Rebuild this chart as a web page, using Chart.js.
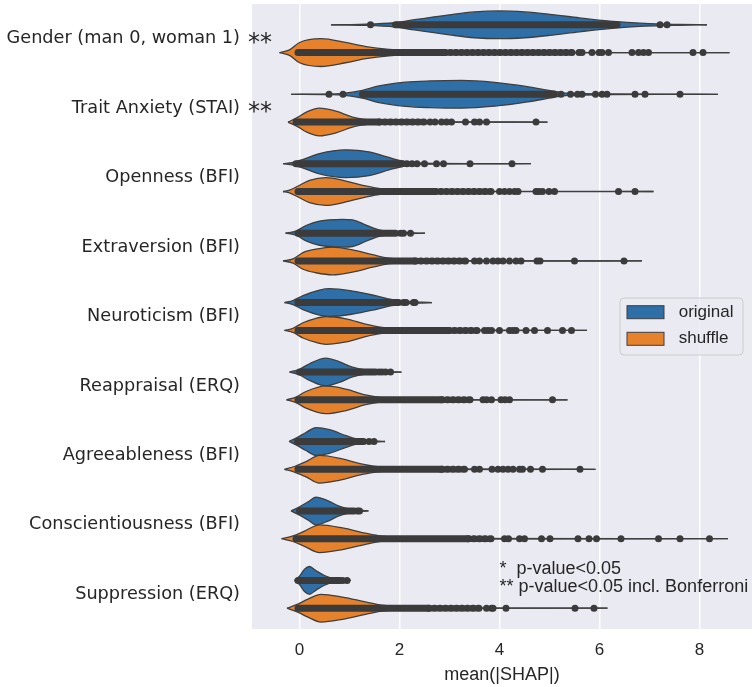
<!DOCTYPE html>
<html>
<head>
<meta charset="utf-8">
<script src="https://cdn.jsdelivr.net/npm/chart.js@4.4.1/dist/chart.umd.min.js"></script>
<style>
  body { margin: 0; background: #ffffff; }
</style>
</head>
<body>
<canvas id="myChart" width="756" height="687"></canvas>
<script>
// categories, top to bottom
var categories = ['Gender (man 0, woman 1)', 'Trait Anxiety (STAI)', 'Openness (BFI)', 'Extraversion (BFI)',
  'Neuroticism (BFI)', 'Reappraisal (ERQ)', 'Agreeableness (BFI)', 'Conscientiousness (BFI)', 'Suppression (ERQ)'];
var significance = ['**', '**', '', '', '', '', '', '', ''];
var seriesNames = ['original', 'shuffle'];
var xTicks = [0, 2, 4, 6, 8];

// violin outlines: sample positions and relative width (1 = widest)
var origX = [
  [0.63, 1.2, 1.9, 2.3, 3.0, 3.5, 4.0, 4.5, 5.0, 5.6, 6.2, 6.9, 7.6, 8.15],
  [-0.17, 0.6, 0.87, 1.26, 1.59, 2.12, 2.6, 3.24, 3.9, 4.56, 5.09, 5.36, 6.2, 7.2, 8.37],
  [-0.33, -0.13, 0.06, 0.4, 0.92, 1.39, 1.79, 2.05, 2.31, 2.71, 3.5, 4.63],
  [-0.28, -0.07, 0.13, 0.4, 0.86, 1.06, 1.32, 1.59, 1.85, 2.18, 2.51],
  [-0.3, -0.13, 0.07, 0.4, 0.6, 1.06, 1.52, 1.85, 2.18, 2.45, 2.65],
  [-0.2, 0.0, 0.2, 0.53, 0.79, 1.06, 1.32, 1.59, 1.85, 2.04],
  [-0.21, -0.04, 0.13, 0.33, 0.6, 0.93, 1.12, 1.39, 1.59, 1.71],
  [-0.17, 0.0, 0.17, 0.33, 0.56, 0.79, 0.99, 1.19, 1.38],
  [-0.1, 0.0, 0.1, 0.2, 0.33, 0.5, 0.66, 0.86, 1.03]
];
var origW = [
  [0, 0.03, 0.15, 0.37, 0.72, 0.93, 1.0, 0.93, 0.76, 0.5, 0.27, 0.1, 0.03, 0],
  [0, 0.02, 0.06, 0.28, 0.6, 0.87, 0.96, 1.0, 0.86, 0.55, 0.22, 0.08, 0.03, 0.01, 0],
  [0, 0.1, 0.3, 0.73, 1.0, 0.86, 0.45, 0.2, 0.07, 0.02, 0.01, 0],
  [0, 0.15, 0.55, 0.87, 1.0, 0.96, 0.6, 0.23, 0.08, 0.03, 0],
  [0, 0.15, 0.5, 0.9, 1.0, 0.83, 0.5, 0.22, 0.08, 0.03, 0],
  [0, 0.2, 0.6, 1.0, 0.75, 0.35, 0.15, 0.06, 0.02, 0],
  [0, 0.3, 0.65, 1.0, 0.85, 0.42, 0.2, 0.07, 0.02, 0],
  [0, 0.3, 0.65, 1.0, 0.75, 0.35, 0.15, 0.06, 0],
  [0, 0.3, 0.8, 1.0, 0.7, 0.35, 0.15, 0.05, 0]
];
var shufX = [
  [-0.4, -0.2, 0.0, 0.43, 0.92, 1.33, 1.79, 2.58, 3.57, 5.0, 6.5, 8.6],
  [-0.23, -0.03, 0.13, 0.4, 0.73, 1.06, 1.39, 1.79, 2.58, 4.96],
  [-0.33, -0.2, 0.0, 0.2, 0.53, 0.93, 1.32, 1.65, 2.18, 3.04, 4.5, 7.08],
  [-0.33, -0.13, 0.07, 0.33, 0.66, 1.06, 1.46, 1.79, 2.31, 3.37, 6.85],
  [-0.3, -0.13, 0.07, 0.33, 0.53, 0.93, 1.32, 1.65, 2.18, 3.04, 5.75],
  [-0.26, -0.07, 0.13, 0.53, 0.93, 1.32, 1.65, 2.18, 2.84, 5.36],
  [-0.3, -0.1, 0.13, 0.4, 0.79, 1.19, 1.52, 2.05, 2.84, 5.92],
  [-0.36, -0.13, 0.1, 0.4, 0.86, 1.32, 1.65, 2.18, 3.04, 8.57],
  [-0.25, -0.06, 0.17, 0.43, 0.86, 1.32, 1.65, 2.18, 2.97, 6.16]
];
var shufW = [
  [0, 0.2, 0.73, 1.0, 0.73, 0.43, 0.23, 0.08, 0.03, 0.015, 0.005, 0],
  [0, 0.35, 0.7, 1.0, 0.78, 0.36, 0.15, 0.05, 0.02, 0],
  [0, 0.1, 0.45, 0.8, 1.0, 0.75, 0.4, 0.18, 0.07, 0.02, 0.01, 0],
  [0, 0.15, 0.6, 0.85, 1.0, 0.8, 0.45, 0.2, 0.07, 0.02, 0],
  [0, 0.15, 0.55, 0.87, 1.0, 0.83, 0.45, 0.22, 0.08, 0.03, 0],
  [0, 0.2, 0.6, 1.0, 0.77, 0.35, 0.15, 0.05, 0.02, 0],
  [0, 0.2, 0.55, 1.0, 0.8, 0.42, 0.2, 0.07, 0.02, 0],
  [0, 0.2, 0.55, 1.0, 0.78, 0.4, 0.18, 0.06, 0.02, 0],
  [0, 0.25, 0.65, 1.0, 0.8, 0.45, 0.22, 0.07, 0.02, 0]
];

// inner points: dense run [from, to], end of the looser run, single points
var origDense = [[1.92, 6.28], [1.26, 5.09], [-0.07, 2.05], [-0.03, 1.92], [-0.03, 1.98],
  [0.0, 1.52], [-0.04, 1.28], [0.0, 1.09], [-0.03, 0.8]];
var origLoose = [6.28, 5.09, 2.05, 1.92, 1.98, 1.52, 1.28, 1.09, 0.8];
var origDots = [
  [1.42, 6.35, 7.21, 7.35],
  [0.59, 0.87, 5.23, 5.42, 5.56, 5.65, 5.92, 6.05, 6.15, 6.71, 6.91, 7.61],
  [2.15, 2.25, 2.35, 2.5, 2.74, 2.88, 3.41, 4.25],
  [2.02, 2.08, 2.22],
  [2.08, 2.13, 2.28, 2.31],
  [1.59, 1.65, 1.72, 1.82],
  [1.39, 1.49],
  [1.16, 1.2],
  [0.86, 0.95]
];
var shufDense = [[-0.03, 2.9], [-0.07, 1.59], [-0.03, 2.71], [-0.03, 2.31], [-0.03, 2.98],
  [-0.03, 2.84], [-0.03, 2.84], [-0.07, 3.37], [-0.03, 2.58]];
var shufLoose = [5.5, 2.51, 3.9, 3.37, 3.6, 3.5, 3.37, 3.9, 3.64];
var shufDots = [
  [5.59, 5.65, 5.85, 5.99, 6.05, 6.18, 6.65, 6.78, 6.88, 6.98, 7.87, 8.07],
  [2.61, 2.71, 2.84, 2.94, 3.04, 3.32, 3.5, 3.6, 3.74, 4.73],
  [4.0, 4.1, 4.2, 4.3, 4.37, 4.73, 4.79, 4.86, 4.99, 5.1, 6.38, 6.71],
  [3.5, 3.6, 3.74, 3.87, 3.97, 4.07, 4.2, 4.33, 4.43, 4.75, 4.81, 5.5, 6.49],
  [3.7, 3.77, 3.84, 4.0, 4.2, 4.27, 4.33, 4.53, 4.7, 4.96, 5.26, 5.44],
  [3.67, 3.74, 3.84, 4.03, 4.11, 4.2, 5.06],
  [3.5, 3.6, 3.85, 3.97, 4.07, 4.17, 4.27, 4.4, 4.46, 4.62, 4.86, 5.61],
  [4.1, 4.18, 4.4, 4.5, 4.84, 5.01, 5.57, 5.79, 5.94, 6.43, 7.18, 7.61, 8.2],
  [3.74, 3.84, 3.87, 4.13, 5.51, 5.89]
];

var colors = ['#2d6fa6', '#e5822b'];
var EDGE = '#3f3f3f';
var DOT = '#3b3b3b';
var DODGE = 0.2;
var HALF = 0.2;

function addViolin(list, pos, xs, ws, dense, looseEnd, dots, color) {
  // upper and lower outline, filled between them
  list.push({
    data: xs.map(function (x, i) { return { x: x, y: pos - ws[i] * HALF }; }),
    showLine: true, fill: '+1', backgroundColor: color, borderColor: EDGE, borderWidth: 1.3,
    pointRadius: 0, cubicInterpolationMode: 'monotone', order: 3
  });
  list.push({
    data: xs.map(function (x, i) { return { x: x, y: pos + ws[i] * HALF }; }),
    showLine: true, fill: false, borderColor: EDGE, borderWidth: 1.3,
    pointRadius: 0, cubicInterpolationMode: 'monotone', order: 3
  });
  // thick run of overlapping points
  list.push({
    data: [{ x: dense[0], y: pos }, { x: dense[1], y: pos }],
    showLine: true, fill: false, borderColor: DOT, borderWidth: 7, borderCapStyle: 'round',
    pointRadius: 0, order: 2
  });
  // looser run: beaded line
  if (looseEnd > dense[1]) {
    list.push({
      data: [{ x: dense[1], y: pos }, { x: looseEnd, y: pos }],
      showLine: true, fill: false, borderColor: DOT, borderWidth: 7, borderDash: [1, 4.5],
      borderCapStyle: 'round', pointRadius: 0, order: 2
    });
  }
  list.push({
    data: dots.map(function (x) { return { x: x, y: pos }; }),
    showLine: false, pointRadius: 3.5, pointBackgroundColor: DOT, pointBorderWidth: 0, order: 1
  });
}

var datasets = [];
for (var i = 0; i < categories.length; i++) {
  addViolin(datasets, i - DODGE, origX[i], origW[i], origDense[i], origLoose[i], origDots[i], colors[0]);
  addViolin(datasets, i + DODGE, shufX[i], shufW[i], shufDense[i], shufLoose[i], shufDots[i], colors[1]);
}

// grey panel behind the plot
var panelBg = {
  id: 'panelBg',
  beforeDraw: function (chart) {
    var a = chart.chartArea, ctx = chart.ctx;
    ctx.save();
    ctx.fillStyle = '#eaeaf2';
    ctx.fillRect(a.left, a.top, a.right - a.left, a.bottom - a.top);
    ctx.restore();
  }
};

// stars, p-value note and legend box
var extras = {
  id: 'extras',
  afterDraw: function (chart) {
    var ctx = chart.ctx, a = chart.chartArea;
    var xs = chart.scales.x, ys = chart.scales.y;
    ctx.save();
    ctx.fillStyle = '#262626';
    ctx.font = '24px "DejaVu Sans"';
    ctx.textAlign = 'left';
    ctx.textBaseline = 'alphabetic';
    significance.forEach(function (s, i) {
      if (s) ctx.fillText(s, a.left - 4, ys.getPixelForValue(i) + 11);
    });

    ctx.font = '18px "Liberation Sans", Arial';
    ctx.textBaseline = 'middle';
    ctx.fillText('*  p-value<0.05', xs.getPixelForValue(4.0), ys.getPixelForValue(7.63));
    ctx.fillText('** p-value<0.05 incl. Bonferroni', xs.getPixelForValue(4.0), ys.getPixelForValue(7.89));

    // legend
    var bx = a.right - 132, by = a.top + 294, bw = 123, bh = 57;
    ctx.beginPath();
    ctx.roundRect(bx, by, bw, bh, 4);
    ctx.fillStyle = 'rgba(234,234,242,0.8)';
    ctx.fill();
    ctx.strokeStyle = '#cccccc';
    ctx.lineWidth = 1;
    ctx.stroke();
    ctx.font = '17px "Liberation Sans", Arial';
    seriesNames.forEach(function (name, k) {
      var ry = by + 7.7 + k * 26.6;
      ctx.fillStyle = colors[k];
      ctx.fillRect(bx + 7, ry, 37, 13);
      ctx.strokeStyle = EDGE;
      ctx.lineWidth = 1;
      ctx.strokeRect(bx + 7, ry, 37, 13);
      ctx.fillStyle = '#262626';
      ctx.fillText(name, bx + 58.7, ry + 6.5);
    });
    ctx.restore();
  }
};

var ctx = document.getElementById('myChart').getContext('2d');
var chart = new Chart(ctx, {
  type: 'scatter',
  data: { datasets: datasets },
  options: {
    responsive: false,
    animation: false,
    layout: { padding: 0 },
    plugins: {
      legend: { display: false },
      tooltip: { enabled: false },
      filler: { drawTime: 'beforeDatasetsDraw' }
    },
    scales: {
      x: {
        type: 'linear', min: -0.95, max: 9.05,
        afterBuildTicks: function (s) { s.ticks = xTicks.map(function (v) { return { value: v }; }); },
        afterFit: function (s) { s.height = 58; s.paddingLeft = 0; s.paddingRight = 0; },
        grid: { color: '#ffffff', lineWidth: 1.5, drawTicks: false },
        border: { display: false },
        ticks: { font: { family: '"Liberation Sans", Arial', size: 17 }, color: '#262626', padding: 11 },
        title: { display: true, text: 'mean(|SHAP|)', font: { family: '"Liberation Sans", Arial', size: 18 },
          color: '#262626', padding: { top: 0, bottom: 1 } }
      },
      y: {
        type: 'linear', min: -0.5, max: 8.5, reverse: true,
        afterBuildTicks: function (s) { s.ticks = categories.map(function (c, i) { return { value: i }; }); },
        afterFit: function (s) { s.width = 252; s.paddingTop = 0; s.paddingBottom = 0; },
        grid: { display: false, drawTicks: false },
        border: { display: false },
        ticks: {
          font: { family: '"DejaVu Sans"', size: 17.7 }, color: '#262626', padding: 12,
          callback: function (v) { return categories[v]; }
        }
      }
    }
  },
  plugins: [panelBg, extras]
});
</script>
</body>
</html>
